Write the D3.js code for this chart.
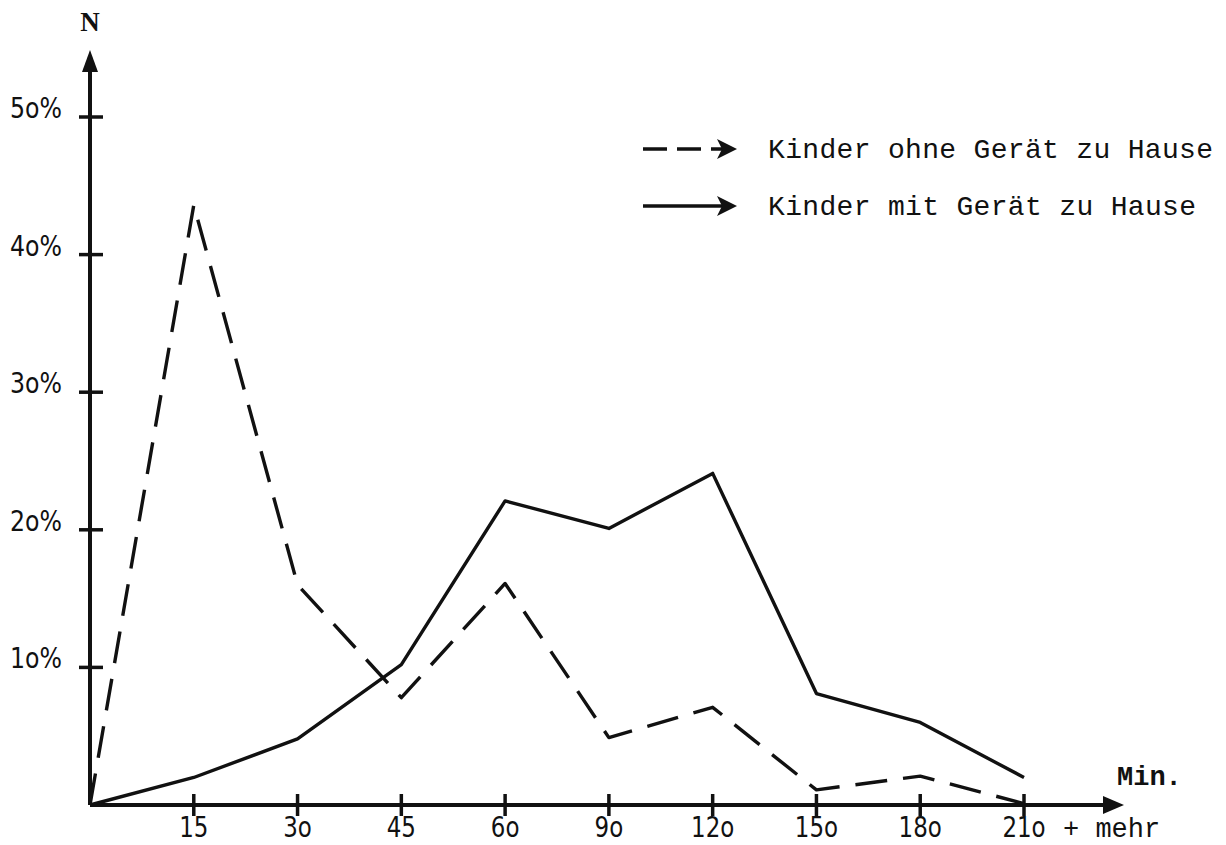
<!DOCTYPE html>
<html>
<head>
<meta charset="utf-8">
<script src="https://cdn.jsdelivr.net/npm/d3@7"></script>
<style>
  body { margin: 0; background: #fff; }
  .type { font-family: "Liberation Mono", "DejaVu Sans Mono", monospace; fill: #111; }
  .hand { font-family: "DejaVu Sans", sans-serif; fill: #111; }
</style>
</head>
<body>
<div id="chart"></div>
<script>
// minutes watched per day (0 = origin)
const categories = ["0", "15", "3o", "45", "6o", "9o", "12o", "15o", "18o", "21o"];
// percentage of children
const ohneGeraet = [0, 43.6, 16, 7.8, 16.1, 4.9, 7.1, 1.1, 2.1, 0.1];
const mitGeraet = [0, 2, 4.8, 10.2, 22.1, 20.1, 24.1, 8.1, 6, 2];
const yTicks = [10, 20, 30, 40, 50];
const yTickLabels = ["1o%", "2o%", "3o%", "4o%", "5o%"];
const legendLabels = ["Kinder ohne Gerät zu Hause", "Kinder mit Gerät zu Hause"];

const width = 1226;
const height = 845;

const svg = d3.select("#chart").append("svg")
    .attr("width", width)
    .attr("height", height);

const x = d3.scalePoint()
    .domain(categories)
    .range([90, 1024]);

const y = d3.scaleLinear()
    .domain([0, 50])
    .range([805, 117]);

const ink = "#111";

// axes
svg.append("line")
    .attr("x1", 90).attr("y1", y(0))
    .attr("x2", 90).attr("y2", 66)
    .attr("stroke", ink).attr("stroke-width", 4);
svg.append("path")
    .attr("d", "M90,50 L82,72 L98,72 Z")
    .attr("fill", ink);

svg.append("line")
    .attr("x1", 90).attr("y1", y(0))
    .attr("x2", 1108).attr("y2", y(0))
    .attr("stroke", ink).attr("stroke-width", 4);
svg.append("path")
    .attr("d", `M1124,${y(0)} L1103,${y(0) - 9} L1103,${y(0) + 9} Z`)
    .attr("fill", ink);

// y ticks
const yt = svg.append("g");
yt.selectAll("line")
    .data(yTicks)
    .enter().append("line")
    .attr("x1", 79).attr("x2", 103)
    .attr("y1", d => y(d)).attr("y2", d => y(d))
    .attr("stroke", ink).attr("stroke-width", 3.5);
yt.selectAll("text")
    .data(yTicks)
    .enter().append("text")
    .attr("class", "hand")
    .attr("x", 10)
    .attr("y", d => y(d) + 1)
    .attr("textLength", 52)
    .attr("lengthAdjust", "spacingAndGlyphs")
    .style("font-size", "28px")
    .text((d, i) => yTickLabels[i]);

// x ticks
const xTickCats = categories.slice(1);
const xt = svg.append("g");
xt.selectAll("line")
    .data(xTickCats)
    .enter().append("line")
    .attr("x1", d => x(d)).attr("x2", d => x(d))
    .attr("y1", y(0) - 11).attr("y2", y(0) + 11)
    .attr("stroke", ink).attr("stroke-width", 3.5);
xt.selectAll("text")
    .data(xTickCats)
    .enter().append("text")
    .attr("class", "hand")
    .attr("transform", d => `translate(${x(d)},837) scale(0.82,1)`)
    .attr("text-anchor", "middle")
    .style("font-size", "28px")
    .text(d => d);

svg.append("text")
    .attr("class", "type")
    .attr("x", 1063)
    .attr("y", 837)
    .style("font-size", "27px")
    .text("+ mehr");

svg.append("text")
    .attr("class", "type")
    .attr("x", 1117)
    .attr("y", 785)
    .style("font-size", "27px")
    .style("font-weight", "bold")
    .text("Min.");

svg.append("text")
    .attr("x", 90)
    .attr("y", 31)
    .attr("text-anchor", "middle")
    .style("font-family", "'Liberation Serif', serif")
    .style("font-size", "27px")
    .style("font-weight", "bold")
    .style("fill", ink)
    .text("N");

// data lines
const line = d3.line()
    .x((d, i) => x(categories[i]))
    .y(d => y(d));

svg.append("path")
    .datum(ohneGeraet)
    .attr("d", line)
    .attr("fill", "none")
    .attr("stroke", ink)
    .attr("stroke-width", 3.4)
    .attr("stroke-dasharray", "32,16")
    .attr("stroke-linejoin", "round");

svg.append("path")
    .datum(mitGeraet)
    .attr("d", line)
    .attr("fill", "none")
    .attr("stroke", ink)
    .attr("stroke-width", 3.4)
    .attr("stroke-linejoin", "round");

// legend
const legend = svg.append("g");
const legendY = [149, 206];
legendY.forEach((ly, i) => {
    legend.append("line")
        .attr("x1", 643).attr("x2", 722)
        .attr("y1", ly).attr("y2", ly)
        .attr("stroke", ink).attr("stroke-width", 3.5)
        .attr("stroke-dasharray", i === 0 ? "24,10" : null);
    legend.append("path")
        .attr("d", `M737,${ly} L717,${ly - 10} L722,${ly} L717,${ly + 10} Z`)
        .attr("fill", ink);
    legend.append("text")
        .attr("class", "type")
        .attr("x", 768)
        .attr("y", ly + 9)
        .attr("textLength", i === 0 ? 445 : 428)
        .attr("lengthAdjust", "spacing")
        .style("font-size", "28px")
        .text(legendLabels[i]);
});
</script>
</body>
</html>
